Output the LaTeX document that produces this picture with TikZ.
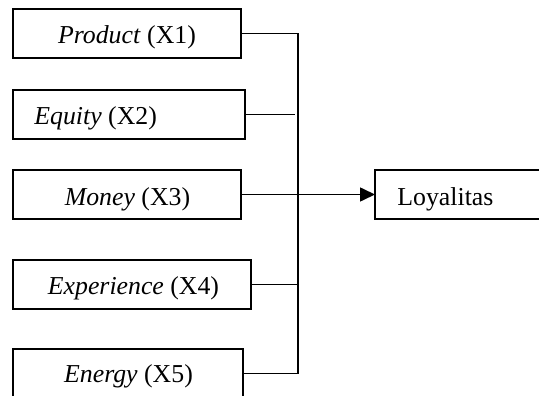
\documentclass[tikz,border=0pt]{standalone}
\usepackage{fontspec}
\setmainfont{Liberation Serif}
\usetikzlibrary{arrows.meta}
\begin{document}
\begin{tikzpicture}[x=0.5pt,y=-0.5pt,
  box/.style={draw=black,line width=0.8pt,minimum height=24.5pt,inner sep=0pt,outer sep=0pt},
  lbl/.style={anchor=base,inner sep=0pt,font=\fontsize{12.9}{15}\selectfont},
  conn/.style={draw=black,line width=0.8pt}]
\useasboundingbox (0,0) rectangle (539,395);
\clip (0,0) rectangle (539,395);
\node[box,minimum width=114pt] (b1) at (127,33.5) {};
\node[box,minimum width=116pt] (b2) at (129,114.5) {};
\node[box,minimum width=114pt] (b3) at (127,194.5) {};
\node[box,minimum width=119pt] (b4) at (132,284.5) {};
\node[box,minimum width=115pt] (b5) at (128,373.5) {};
\node[box,minimum width=85pt] (ly) at (460,194.5) {};
\node[lbl] (t1) at (127,44) {\textit{Product} (X1)};
\node[lbl,anchor=base west] (t2) at (34,125) {\textit{Equity} (X2)};
\node[lbl] (t3) at (127.5,205) {\textit{Money} (X3)};
\node[lbl] (t4) at (133.5,294) {\textit{Experience} (X4)};
\node[lbl] (t5) at (128.5,382) {\textit{Energy} (X5)};
\node[lbl,anchor=base west] (t6) at (397,205) {Loyalitas};
\coordinate (j1) at (298,33.5);
\coordinate (j2) at (295,114.5);
\coordinate (j4) at (298,284.5);
\coordinate (j5) at (298,373.5);
\draw[conn] (b1.east) -- (j1) -- (j5) -- (b5.east);
\draw[conn] (b2.east) -- (j2);
\draw[conn] (b4.east) -- (j4);
\draw[conn,-{Triangle[length=7.5pt,width=7pt]}] (b3.east) -- (ly.west);
\end{tikzpicture}
\end{document}
